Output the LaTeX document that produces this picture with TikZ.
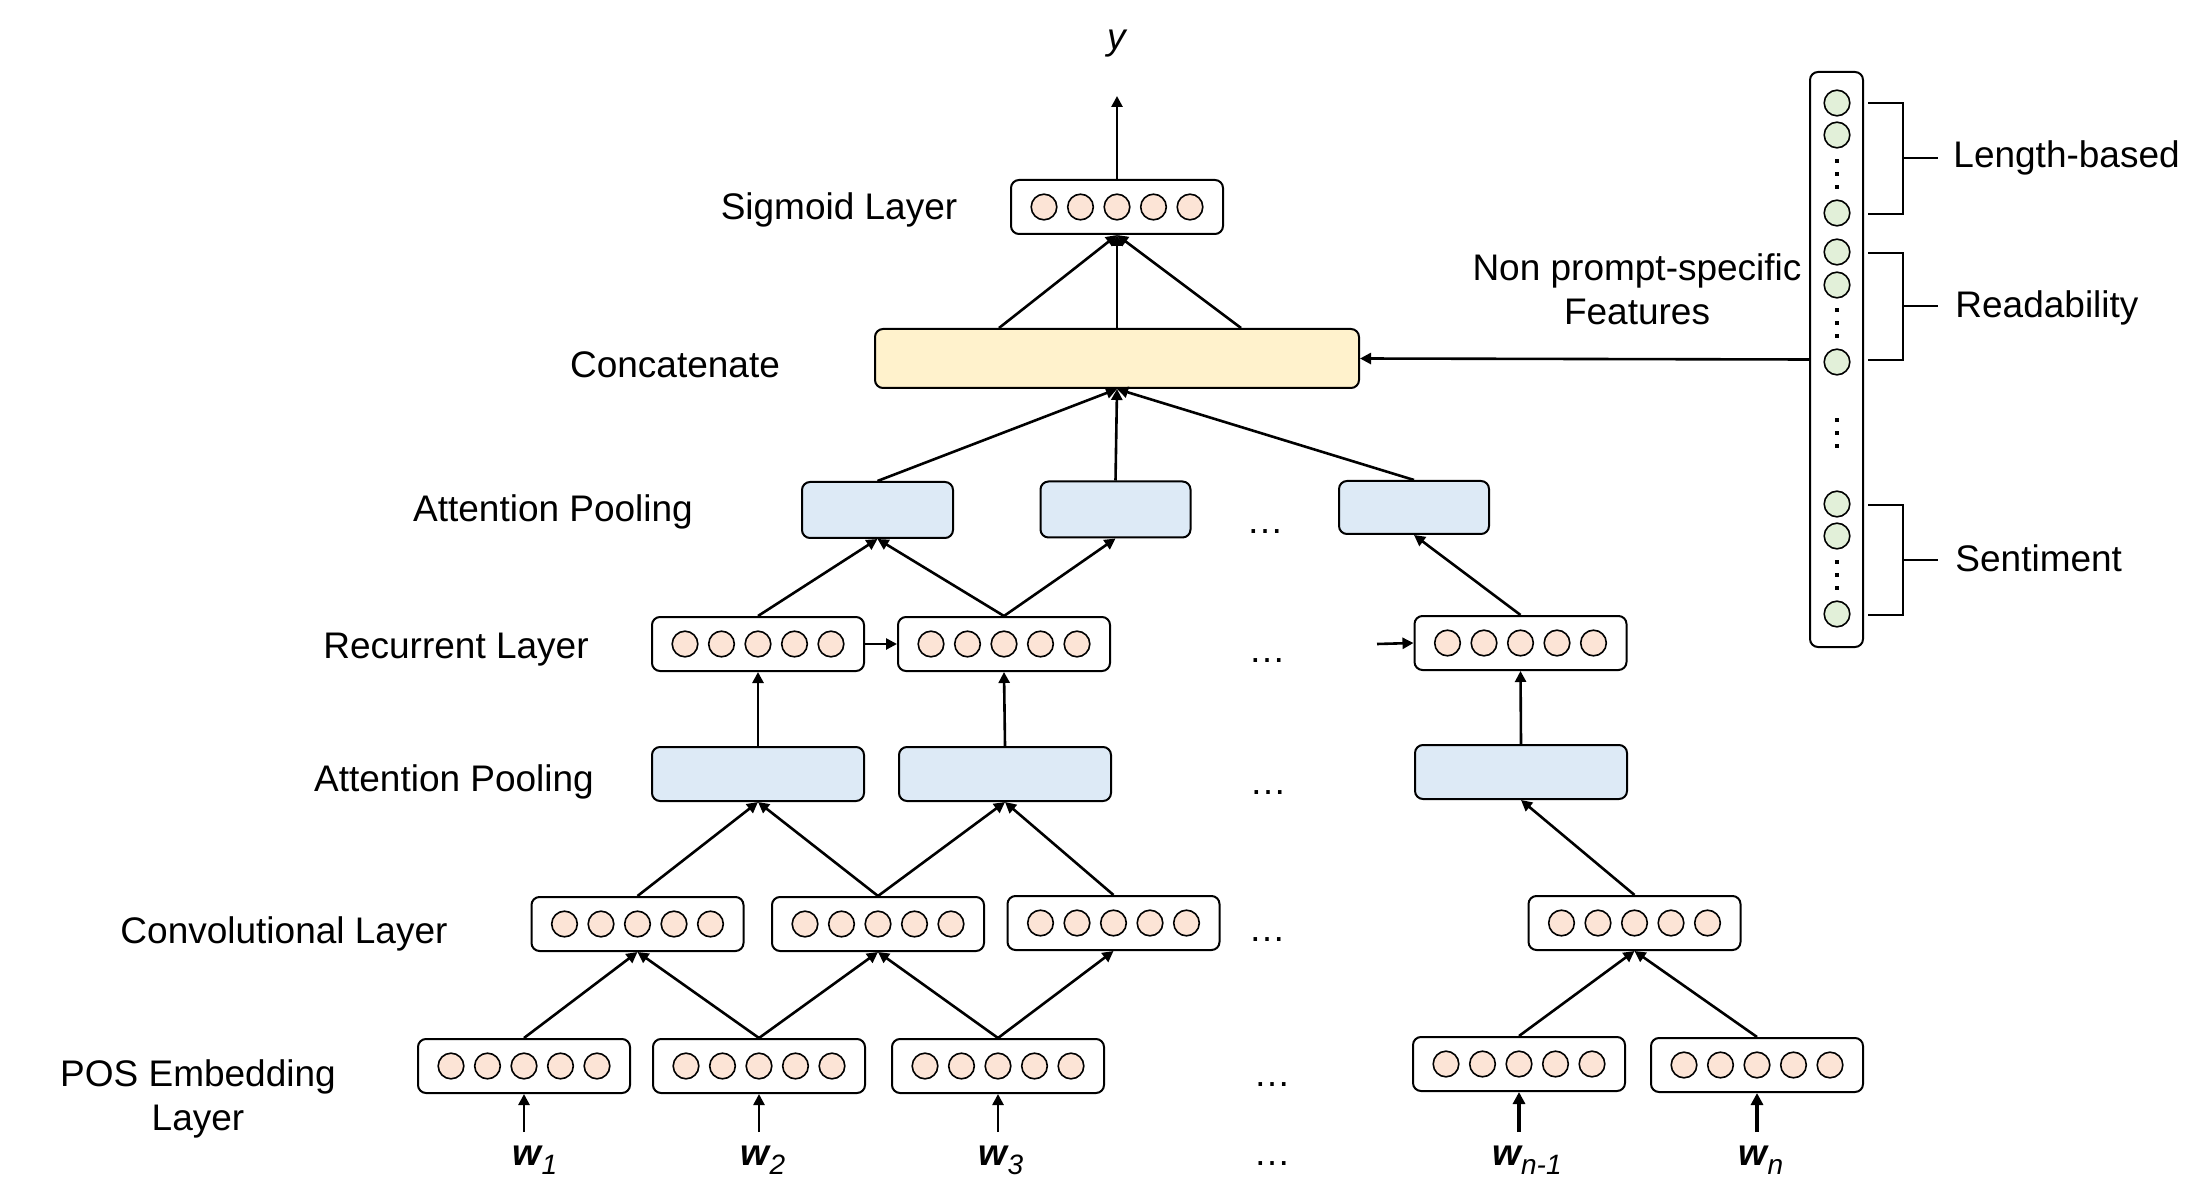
\documentclass[tikz,border=0pt]{standalone}
\usepackage{fontspec}
\setmainfont{Liberation Sans}
\usetikzlibrary{arrows.meta}
\definecolor{peach}{RGB}{252,228,214}
\definecolor{greenF}{RGB}{226,240,217}
\definecolor{blueF}{RGB}{221,234,246}
\definecolor{yellowF}{RGB}{255,242,204}
\newcommand{\wsub}[1]{\raisebox{-4.5pt}{\fontsize{14}{14}\selectfont\mdseries\itshape #1}}
\begin{document}
\begin{tikzpicture}[x=0.5pt,y=-0.5pt,
  font=\fontsize{18.5}{22}\selectfont,
  vec/.style={draw, line width=1pt, rounded corners=4pt, fill=white,
    minimum width=106pt, minimum height=27pt, inner sep=0pt},
  attn/.style={draw, line width=1pt, rounded corners=4pt, fill=blueF,
    minimum height=27pt, inner sep=0pt},
  cell/.style={circle, draw, line width=0.8pt, fill=peach,
    minimum size=12.8pt, inner sep=0pt},
  gcell/.style={cell, fill=greenF},
  arr/.style={line width=1.3pt, -{Triangle[length=5.5pt,width=5.5pt]}},
  thickarr/.style={line width=1.9pt, -{Triangle[length=6pt,width=6pt]}},
  brk/.style={line width=1pt},
  lbl/.style={inner sep=0pt, anchor=base},
  wlbl/.style={inner xsep=0pt, inner ysep=6.5pt, anchor=base,
    font=\fontsize{18.5}{22}\selectfont\bfseries\itshape},
  dots/.style={inner sep=0pt, anchor=base}
]
\useasboundingbox (0,0) rectangle (2210,1197);

% ---------- boxes ----------
\node[vec] (sig) at (1117,207) {};
\node[draw, line width=1pt, rounded corners=4pt, fill=yellowF,
      minimum width=242pt, minimum height=29.5pt, inner sep=0pt] (cat) at (1117,358.5) {};

\node[attn, minimum width=75.5pt, minimum height=28pt] (ta1) at (877.5,510) {};
\node[attn, minimum width=75pt, minimum height=28pt] (ta2) at (1115.5,509.5) {};
\node[attn, minimum width=75pt, minimum height=26.5pt] (ta3) at (1414,507.5) {};

\node[vec] (r1) at (758,644) {};
\node[vec] (r2) at (1004,644) {};
\node[vec] (r3) at (1520.5,643) {};

\node[attn, minimum width=106pt] (la1) at (758,774) {};
\node[attn, minimum width=106pt] (la2) at (1005,774) {};
\node[attn, minimum width=106pt] (la3) at (1521,772) {};

\node[vec] (c1) at (637.5,924) {};
\node[vec] (c2) at (878,924) {};
\node[vec] (c3) at (1113.5,923) {};
\node[vec] (c4) at (1634.5,923) {};

\node[vec] (p1) at (524,1066) {};
\node[vec] (p2) at (759,1066) {};
\node[vec] (p3) at (998,1066) {};
\node[vec] (p4) at (1519,1064) {};
\node[vec] (p5) at (1757,1065) {};

% circles inside vector boxes
\foreach \b in {sig,r1,r2,r3,c1,c2,c3,c4,p1,p2,p3,p4,p5}{
  \foreach \k in {-2,-1,0,1,2}{
    \node[cell] (\b-c\k) at ([xshift=\k*18.25pt]\b.center) {};
  }
}

% ---------- feature column ----------
\node[draw, line width=1pt, rounded corners=4pt, fill=white,
      minimum width=26.5pt, minimum height=287.5pt, inner sep=0pt] (feat) at (1836.5,359.5) {};
\foreach \i/\yy in {1/103,2/135,3/213,4/252,5/285,6/362,7/504,8/536,9/614}{
  \node[gcell] (g\i) at (1837,\yy) {};
}
\foreach \yy in {161,174,187, 310,323,336, 420,433,446, 562,575,588}{
  \fill (1835,\yy-2) rectangle (1839,\yy+2);
}
% brackets
\draw[brk] (1868,103) -- (1903,103) -- (1903,214) -- (1868,214);
\draw[brk] (1903,158.5) -- (1938,158.5);
\draw[brk] (1868,253) -- (1903,253) -- (1903,360) -- (1868,360);
\draw[brk] (1903,306.5) -- (1938,306.5);
\draw[brk] (1868,505) -- (1903,505) -- (1903,615) -- (1868,615);
\draw[brk] (1903,560) -- (1938,560);

\node[lbl, anchor=base west] (lenlbl) at (1953,168) {Length-based};
\node[lbl, anchor=base west] (readlbl) at (1955,318) {Readability};
\node[lbl, anchor=base west] (sentlbl) at (1955,571) {Sentiment};
\node[lbl] (np1) at (1637,281) {Non prompt-specific};
\node[lbl] (np2) at (1637,325) {Features};

% ---------- layer labels ----------
\node[lbl] (lsig) at (839,220) {Sigmoid Layer};
\node[lbl] (lcat) at (675,378) {Concatenate};
\node[lbl] (lta) at (553,522) {Attention Pooling};
\node[lbl] (lrec) at (456,658) {Recurrent Layer};
\node[lbl] (lla) at (454,791) {Attention Pooling};
\node[lbl] (lconv) at (284,943) {Convolutional Layer};
\node[lbl] (lpos1) at (198,1086) {POS Embedding};
\node[lbl] (lpos2) at (198,1130) {Layer};

% output
\node[lbl, font=\fontsize{18.5}{22}\selectfont\itshape] (ylbl) at (1117,50) {y};
\coordinate (ytip) at (1117,96);

% word inputs
\node[wlbl] (w1) at (535,1165) {w\wsub{1}};
\node[wlbl] (w2) at (763,1165) {w\wsub{2}};
\node[wlbl] (w3) at (1001,1165) {w\wsub{3}};
\node[wlbl] (w4) at (1527,1165) {w\wsub{n-1}};
\node[wlbl] (w5) at (1761,1165) {w\wsub{n}};

% ellipses
\node[dots] (d1) at (1265,534) {…};
\node[dots] (d2) at (1267,662) {…};
\node[dots] (d3) at (1268,794) {…};
\node[dots] (d4) at (1267,941) {…};
\node[dots] (d5) at (1272,1086) {…};
\node[dots] (d6) at (1272,1165) {…};

\coordinate (rin) at (1377,644);

% ---------- connectors ----------
\draw[arr] (w1.north -| p1.south) -- (p1.south);
\draw[arr] (w2.north -| p2.south) -- (p2.south);
\draw[arr] (w3.north -| p3.south) -- (p3.south);
\draw[thickarr] (w4.north -| p4.south) -- (p4.south);
\draw[thickarr] (w5.north -| p5.south) -- (p5.south);

\draw[arr] (p1.north) -- (c1.south);
\draw[arr] (p2.north) -- (c1.south);
\draw[arr] (p2.north) -- (c2.south);
\draw[arr] (p3.north) -- (c2.south);
\draw[arr] (p3.north) -- (c3.south);
\draw[arr] (p4.north) -- (c4.south);
\draw[arr] (p5.north) -- (c4.south);

\draw[arr] (c1.north) -- (la1.south);
\draw[arr] (c2.north) -- (la1.south);
\draw[arr] (c2.north) -- (la2.south);
\draw[arr] (c3.north) -- (la2.south);
\draw[arr] (c4.north) -- (la3.south);

\draw[arr] (la1.north) -- (r1.south);
\draw[arr] (la2.north) -- (r2.south);
\draw[arr] (la3.north) -- (r3.south);

\draw[arr] (r1.east) -- (r2.west);
\draw[arr] (rin) -- (r3.west);

\draw[arr] (r1.north) -- (ta1.south);
\draw[arr] (r2.north) -- (ta1.south);
\draw[arr] (r2.north) -- (ta2.south);
\draw[arr] (r3.north) -- (ta3.south);

\draw[arr] (ta1.north) -- (cat.south);
\draw[arr] (ta2.north) -- (cat.south);
\draw[arr] (ta3.north) -- (cat.south);

\draw[arr] ([xshift=-59pt]cat.north) -- (sig.south);
\draw[arr] (cat.north) -- (sig.south);
\draw[arr] ([xshift=62pt]cat.north) -- (sig.south);

\draw[arr] (sig.north) -- (ytip);
\draw[arr] (feat.west) -- (cat.east);
\end{tikzpicture}
\end{document}
